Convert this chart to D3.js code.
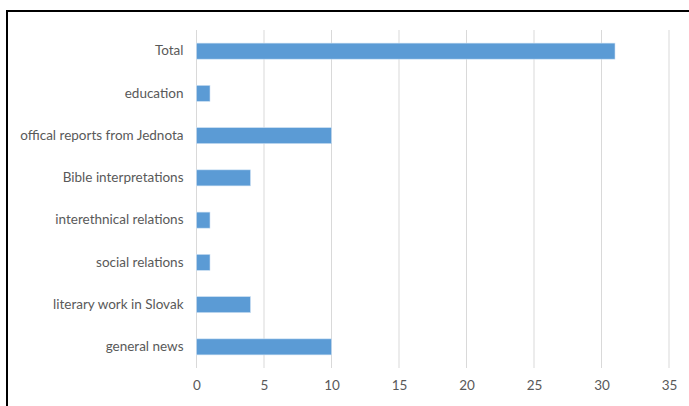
<!DOCTYPE html>
<html>
<head>
<meta charset="utf-8">
<script src="https://cdn.jsdelivr.net/npm/d3@7"></script>
<style>
  html, body { margin: 0; padding: 0; background: #fff; }
  svg { display: block; }
  text { font-family: Lato, "Open Sans", sans-serif; fill: #595959; }
</style>
</head>
<body>
<svg id="chart" width="689" height="406"></svg>
<script>
// Topics, listed top to bottom
const categories = [
  "Total",
  "education",
  "offical reports from Jednota",
  "Bible interpretations",
  "interethnical relations",
  "social relations",
  "literary work in Slovak",
  "general news"
];
// Number of articles per topic
const counts = [31, 1, 10, 4, 1, 1, 4, 10];
// Value axis ticks
const tickValues = [0, 5, 10, 15, 20, 25, 30, 35];

const svg = d3.select("#chart");

// Frame (left and top edges)
svg.append("path")
  .attr("d", "M7,406 L7,11 L689,11")
  .attr("fill", "none")
  .attr("stroke", "#000")
  .attr("stroke-width", 2);

const plot = { left: 196.5, right: 669, top: 30, bottom: 368 };

const x = d3.scaleLinear().domain([0, 35]).range([plot.left, plot.right]);
const y = d3.scaleBand().domain(categories).range([plot.top, plot.bottom]).padding(0);
const barH = y.step() * 0.38;

// Vertical gridlines
svg.append("g")
  .selectAll("line")
  .data(tickValues)
  .join("line")
  .attr("x1", d => x(d)).attr("x2", d => x(d))
  .attr("y1", plot.top).attr("y2", plot.bottom)
  .attr("stroke", "#d9d9d9")
  .attr("stroke-width", 1);

// Value axis labels
const xAxis = d3.axisBottom(x).tickValues(tickValues).tickSize(0).tickPadding(0);
const gx = svg.append("g")
  .attr("transform", `translate(0, ${plot.bottom + 12})`)
  .call(xAxis);
gx.select(".domain").remove();
gx.selectAll("text")
  .attr("dy", "0.71em")
  .style("font-size", "13.5px")
  .style("font-family", "Lato, 'Open Sans', sans-serif")
  .attr("fill", "#595959");

// Category axis labels
const yAxis = d3.axisLeft(y).tickSize(0).tickPadding(0);
const gy = svg.append("g")
  .attr("transform", `translate(${plot.left - 13}, 0)`)
  .call(yAxis);
gy.select(".domain").remove();
gy.selectAll("text")
  .style("font-size", "13.5px")
  .style("font-family", "Lato, 'Open Sans', sans-serif")
  .attr("fill", "#595959");

// Bars
svg.append("g")
  .selectAll("rect")
  .data(categories.map((c, i) => ({ c, v: counts[i] })))
  .join("rect")
  .attr("x", x(0))
  .attr("y", d => y(d.c) + (y.bandwidth() - barH) / 2)
  .attr("width", d => x(d.v) - x(0))
  .attr("height", barH)
  .attr("fill", "#5b9bd5")
  .attr("stroke", "#cfe2f3")
  .attr("stroke-width", 0.6);
</script>
</body>
</html>
